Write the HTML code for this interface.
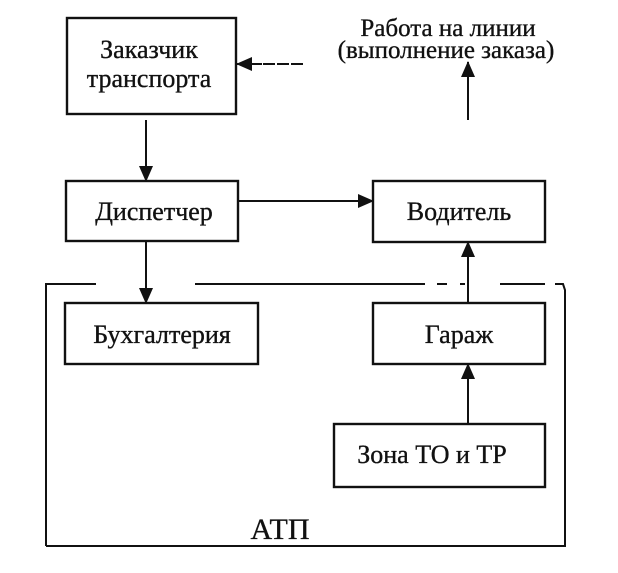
<!DOCTYPE html>
<html><head><meta charset="utf-8"><style>
html,body{margin:0;padding:0;background:#fff;}
svg text{font-family:"Liberation Serif",serif;fill:#111;stroke:#111;stroke-width:0.35;}
</style></head><body>
<svg width="618" height="568" viewBox="0 0 618 568" xmlns="http://www.w3.org/2000/svg">
<defs><marker id="a" markerWidth="16" markerHeight="14" refX="15" refY="7" orient="auto" markerUnits="userSpaceOnUse"><path d="M0,0 L16,7 L0,14 z" fill="#111"/></marker></defs>
<g fill="none" stroke="#111" stroke-width="2.4">
<rect x="67" y="18" width="169" height="96"/>
<rect x="66" y="181" width="172" height="60"/>
<rect x="373" y="181" width="172" height="61"/>
<rect x="65" y="303" width="193" height="61"/>
<rect x="373" y="303" width="172" height="61"/>
<rect x="334" y="424" width="211" height="63"/>
</g>
<g fill="none" stroke="#111" stroke-width="2">
<path d="M46,546 L46,284 L96,284"/>
<path d="M195,284 L425,284"/>
<path d="M437,284 L447,284 M460,284 L465,284 M500,284 L545,284 M555,284 L563,284 L565,290 L565,546 L46,546" />
<line x1="146" y1="120" x2="146" y2="181" marker-end="url(#a)"/>
<line x1="238" y1="201" x2="373" y2="201" marker-end="url(#a)"/>
<line x1="146" y1="241" x2="146" y2="303" marker-end="url(#a)"/>
<line x1="468" y1="303" x2="468" y2="242" marker-end="url(#a)"/>
<line x1="468" y1="424" x2="468" y2="364" marker-end="url(#a)"/>
<line x1="468" y1="120" x2="468" y2="62" marker-end="url(#a)"/>
<line x1="303" y1="64" x2="258" y2="64" stroke-dasharray="12,2"/>
<line x1="262" y1="64" x2="237" y2="64" marker-end="url(#a)"/>
</g>
<g font-size="26" text-anchor="middle">
<text x="149" y="58">Заказчик</text>
<text x="149" y="87">транспорта</text>
<text x="154" y="220">Диспетчер</text>
<text x="459" y="220">Водитель</text>
<text x="162" y="343">Бухгалтерия</text>
<text x="459" y="343">Гараж</text>
<text x="432" y="463">Зона ТО и ТР</text>
<text x="448" y="36" font-size="25">Работа на линии</text>
<text x="446" y="58" font-size="25">(выполнение заказа)</text>
<text x="280" y="539" font-size="30">АТП</text>
</g>
</svg>
</body></html>
